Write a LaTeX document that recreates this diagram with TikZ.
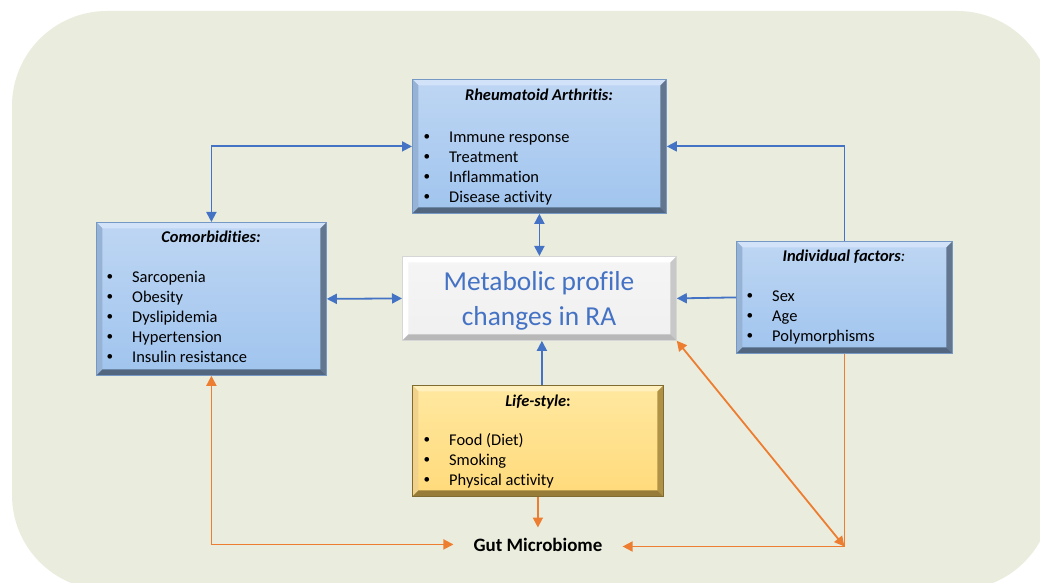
\documentclass[tikz,border=0pt]{standalone}
\usepackage{fontspec}
\setmainfont[Ligatures=NoCommon]{Carlito}
\usetikzlibrary{arrows.meta}

% palette
\definecolor{bgc}{RGB}{234,237,221}
\definecolor{linkblue}{RGB}{68,114,196}
\definecolor{linkorange}{RGB}{237,125,49}
\definecolor{bluetop}{RGB}{190,214,243}
\definecolor{bluebot}{RGB}{160,196,238}
\definecolor{bluelight}{RGB}{210,227,249}
\definecolor{blueside}{RGB}{150,178,212}
\definecolor{bluedark}{RGB}{98,118,144}
\definecolor{bluedeep}{RGB}{82,102,128}
\definecolor{blueline}{RGB}{118,152,196}
\definecolor{yeltop}{RGB}{255,232,160}
\definecolor{yelbot}{RGB}{255,218,122}
\definecolor{yellight}{RGB}{255,240,190}
\definecolor{yelside}{RGB}{240,210,140}
\definecolor{yeldark}{RGB}{176,146,70}
\definecolor{yeldeep}{RGB}{150,124,56}
\definecolor{yelline}{RGB}{128,108,48}
\definecolor{greytop}{RGB}{245,245,245}
\definecolor{greybot}{RGB}{240,240,240}
\definecolor{greydark}{RGB}{200,200,200}
\definecolor{greydeep}{RGB}{184,184,184}
\definecolor{greyline}{RGB}{214,214,214}

\newcommand\itm[1]{\makebox[25.5bp][l]{\raisebox{0.25ex}{\scalebox{0.8}{\textbullet}}}#1}
\newcommand\bodyfont{\fontsize{16.5}{19.9}\selectfont}

\tikzset{
  % bevelled box: #1 top fill, #2 bottom fill, #3 top edge, #4 left edge,
  % #5 right edge, #6 bottom edge, #7 outline
  bevelbox/.style n args={7}{
    draw=#7, line width=0.8bp, top color=#1, bottom color=#2,
    inner sep=0pt, anchor=north west,
    path picture={
      \fill[#3] (path picture bounding box.north west) -- (path picture bounding box.north east)
        -- ([shift={(-6bp,-6bp)}]path picture bounding box.north east)
        -- ([shift={(6bp,-6bp)}]path picture bounding box.north west) -- cycle;
      \fill[#4] (path picture bounding box.north west) -- (path picture bounding box.south west)
        -- ([shift={(6bp,6bp)}]path picture bounding box.south west)
        -- ([shift={(6bp,-6bp)}]path picture bounding box.north west) -- cycle;
      \fill[#5] (path picture bounding box.north east) -- (path picture bounding box.south east)
        -- ([shift={(-6bp,6bp)}]path picture bounding box.south east)
        -- ([shift={(-6bp,-6bp)}]path picture bounding box.north east) -- cycle;
      \fill[#6] (path picture bounding box.south west) -- (path picture bounding box.south east)
        -- ([shift={(-6bp,6bp)}]path picture bounding box.south east)
        -- ([shift={(6bp,6bp)}]path picture bounding box.south west) -- cycle;
    }
  },
  bluebox/.style={bevelbox={bluetop}{bluebot}{bluelight}{blueside}{bluedark}{bluedeep}{blueline}},
  yelbox/.style={bevelbox={yeltop}{yelbot}{yellight}{yelside}{yeldark}{yeldeep}{yelline}},
  greybox/.style={bevelbox={greytop}{greybot}{white}{white}{greydark}{greydeep}{greyline}},
  boxtitle/.style={anchor=base, inner sep=0pt, font=\bodyfont},
  boxlist/.style={anchor=base west, inner sep=0pt, font=\bodyfont},
  bconn/.style={draw=linkblue, line width=1.8bp},
  oconn/.style={draw=linkorange, line width=1.8bp},
  >={Triangle[length=10bp,width=10bp]}
}

\begin{document}
\begin{tikzpicture}[x=1bp, y=-1bp]
\clip (0,0) rectangle (1040,583);
\fill[white] (0,0) rectangle (1040,583);

% panel behind the diagram
\fill[bgc, rounded corners=95bp] (12,11) rectangle (1052,590);

% boxes
\node[bluebox, minimum width=254bp, minimum height=134bp] (ra) at (412,79) {};
\node[bluebox, minimum width=230bp, minimum height=153bp] (com) at (96,222) {};
\node[bluebox, minimum width=216bp, minimum height=112bp] (ind) at (736,241) {};
\node[greybox, minimum width=274bp, minimum height=84bp] (mp) at (402,256) {};
\node[yelbox, minimum width=251bp, minimum height=111bp] (ls) at (412,385) {};

% box texts
\node[boxtitle] (ra-t) at (539,101) {\textbf{\textit{Rheumatoid Arthritis:}}};
\node[boxlist] (ra-l) at (423.5,142.7) {\begin{tabular}[t]{@{}l@{}}
  \itm{Immune response}\\ \itm{Treatment}\\ \itm{Inflammation}\\ \itm{Disease activity}\end{tabular}};

\node[boxtitle] (com-t) at (211,242.5) {\textbf{\textit{Comorbidities:}}};
\node[boxlist] (com-l) at (106.5,282.7) {\begin{tabular}[t]{@{}l@{}}
  \itm{Sarcopenia}\\ \itm{Obesity}\\ \itm{Dyslipidemia}\\ \itm{Hypertension}\\ \itm{Insulin resistance}\end{tabular}};

\node[boxtitle] (ind-t) at (844,261.7) {\textbf{\textit{Individual factors}}\textit{:}};
\node[boxlist] (ind-l) at (746.5,301.7) {\begin{tabular}[t]{@{}l@{}}
  \itm{Sex}\\ \itm{Age}\\ \itm{Polymorphisms}\end{tabular}};

\node[anchor=base, inner sep=0pt, text=linkblue, font=\fontsize{27.5}{35}\selectfont] (mp-t) at (539,291)
  {\begin{tabular}[t]{@{}c@{}}Metabolic profile\\ changes in RA\end{tabular}};

\node[boxtitle] (ls-t) at (538,406) {\textbf{\textit{Life-style}:}};
\node[boxlist] (ls-l) at (423.5,445.7) {\begin{tabular}[t]{@{}l@{}}
  \itm{Food (Diet)}\\ \itm{Smoking}\\ \itm{Physical activity}\end{tabular}};

\node[anchor=base, inner xsep=20bp, inner ysep=10bp, font=\fontsize{19}{22}\selectfont\bfseries] (gut) at (538,551) {Gut Microbiome};

% blue links
\draw[bconn, <->] (ra.west) -| (com.north);
\draw[bconn, ->] (ind.north) |- (ra.east);
\draw[bconn, <->] (ra.south) -- (ra.south |- mp.north);
\draw[bconn, <->] (com.east) -- (mp.west);
\draw[bconn, ->] (ind.west) -- (mp.east);
\draw[bconn, ->] ([xshift=4bp]ls.north) -- ([xshift=4bp]ls.north |- mp.south);

% orange links
\coordinate (obend) at (ind.south |- 0,546.5);
\draw[oconn, <->] (com.south) |- (gut.west);
\draw[oconn, ->] (ls.south) -- (ls.south |- gut.north);
\draw[oconn, ->] (ind.south) -- (obend) -- (obend -| gut.east);
\draw[oconn, <->] (mp.south east) -- (obend);
\end{tikzpicture}
\end{document}
